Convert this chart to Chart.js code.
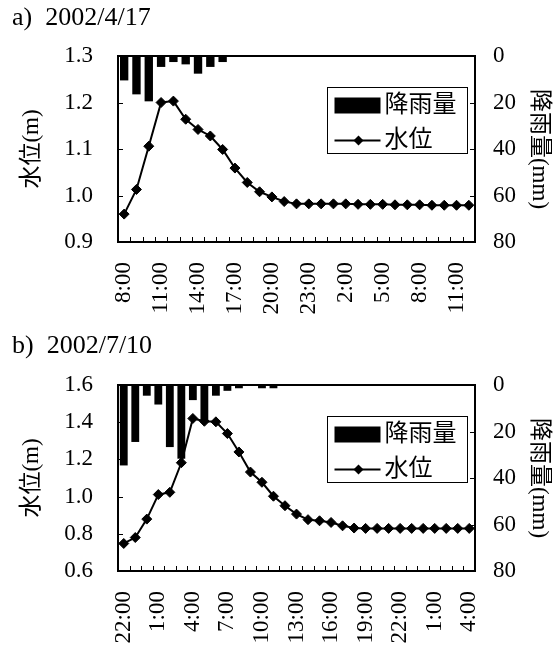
<!DOCTYPE html>
<html>
<head>
<meta charset="utf-8">
<script src="https://cdn.jsdelivr.net/npm/chart.js@4"></script>
<style>
body { margin: 0; background: #fff; }
#wrap { position: relative; width: 558px; height: 648px; }
canvas { position: absolute; left: 0; }
.cap { position: absolute; left: 12px; font: 26px 'Liberation Serif', 'Noto Sans CJK JP', serif; line-height: 26px; white-space: pre; color: #000; }
</style>
</head>
<body>
<div id="wrap">
  <canvas id="chartA" width="558" height="330" style="top:0"></canvas>
  <canvas id="chartB" width="558" height="318" style="top:330px"></canvas>
  <div class="cap" style="top:4px">a)  2002/4/17</div>
  <div class="cap" style="top:332px">b)  2002/7/10</div>
</div>
<script>
// a) 2002/4/17, hourly from 8:00
var hoursA = ['8:00','9:00','10:00','11:00','12:00','13:00','14:00','15:00','16:00','17:00',
  '18:00','19:00','20:00','21:00','22:00','23:00','0:00','1:00','2:00','3:00','4:00','5:00',
  '6:00','7:00','8:00','9:00','10:00','11:00','12:00'];
var rainA = [10.5, 16.5, 19.5, 4.7, 2.6, 3.6, 7.6, 4.7, 2.6, 0, 0, 0, 0, 0, 0,
  0, 0, 0, 0, 0, 0, 0, 0, 0, 0, 0, 0, 0, 0];
var levelA = [0.960, 1.013, 1.106, 1.200, 1.203, 1.164, 1.142, 1.128, 1.099, 1.059,
  1.028, 1.008, 0.997, 0.987, 0.982, 0.982, 0.982, 0.982, 0.982, 0.981, 0.981, 0.981,
  0.980, 0.980, 0.980, 0.979, 0.979, 0.979, 0.979];

// b) 2002/7/10, hourly from 22:00
var hoursB = ['22:00','23:00','0:00','1:00','2:00','3:00','4:00','5:00','6:00','7:00',
  '8:00','9:00','10:00','11:00','12:00','13:00','14:00','15:00','16:00','17:00','18:00',
  '19:00','20:00','21:00','22:00','23:00','0:00','1:00','2:00','3:00','4:00'];
var rainB = [34.6, 24.5, 4.6, 8.4, 26.7, 31.7, 6.5, 15.1, 4.6, 2.5, 1.4, 0, 1.4, 1.4, 0,
  0, 0, 0, 0, 0, 0, 0, 0, 0, 0, 0, 0, 0, 0, 0, 0];
var levelB = [0.748, 0.780, 0.879, 1.011, 1.023, 1.182, 1.420, 1.405, 1.402, 1.339,
  1.240, 1.132, 1.077, 1.002, 0.951, 0.906, 0.876, 0.870, 0.861, 0.843, 0.831, 0.829,
  0.829, 0.829, 0.829, 0.829, 0.829, 0.829, 0.829, 0.829, 0.829];

var FAMILY = "'Liberation Serif', 'Noto Sans CJK JP', serif";
Chart.defaults.font.family = FAMILY;
Chart.defaults.color = '#000';

// frame, inward tick marks and the boxed legend inside the plot
var framePlugin = {
  id: 'framePlugin',
  afterDatasetsDraw: function (chart) {
    var ctx = chart.ctx, a = chart.chartArea;
    var x = chart.scales.x, y = chart.scales.y, r = chart.scales.rain;
    ctx.save();
    ctx.strokeStyle = '#000';
    ctx.lineWidth = 1;
    ctx.beginPath();
    for (var i = 1; i < x.ticks.length; i++) {
      var px = Math.round(x.getPixelForValue(i - 0.5)) + 0.5;
      ctx.moveTo(px, a.bottom);
      ctx.lineTo(px, a.bottom - 5);
    }
    y.ticks.forEach(function (t, i) {
      if (i === 0 || i === y.ticks.length - 1) return;
      var py = Math.round(y.getPixelForValue(t.value)) + 0.5;
      ctx.moveTo(a.left, py);
      ctx.lineTo(a.left + 5, py);
    });
    r.ticks.forEach(function (t, i) {
      if (i === 0 || i === r.ticks.length - 1) return;
      var py = Math.round(r.getPixelForValue(t.value)) + 0.5;
      ctx.moveTo(a.right, py);
      ctx.lineTo(a.right - 5, py);
    });
    ctx.stroke();
    ctx.lineWidth = 2;
    ctx.strokeRect(a.left, a.top, a.right - a.left, a.bottom - a.top);

    // legend
    var bx = Math.round(a.right - 148.5) + 0.5, by = Math.round(a.top + 31) + 0.5;
    ctx.fillStyle = '#fff';
    ctx.fillRect(bx, by, 140, 66);
    ctx.lineWidth = 1;
    ctx.strokeRect(bx, by, 140, 66);
    var ds = chart.data.datasets;
    ctx.fillStyle = '#000';
    ctx.fillRect(bx + 7, by + 10, 46, 16);
    ctx.font = '24px ' + FAMILY;
    ctx.textBaseline = 'middle';
    ctx.textAlign = 'left';
    ctx.fillText(ds[1].label, bx + 57, by + 18);
    ctx.lineWidth = 2;
    ctx.beginPath();
    ctx.moveTo(bx + 7, by + 53);
    ctx.lineTo(bx + 53, by + 53);
    ctx.stroke();
    var mx = bx + 31, my = by + 53, mr = 5;
    ctx.beginPath();
    ctx.moveTo(mx - mr, my);
    ctx.lineTo(mx, my - mr);
    ctx.lineTo(mx + mr, my);
    ctx.lineTo(mx, my + mr);
    ctx.closePath();
    ctx.fill();
    ctx.fillText(ds[0].label, bx + 57, by + 53);
    ctx.restore();
  }
};

function makeChart(id, hours, rain, level, yMin, yMax, yStep, areaTop, areaBottom, canvasH) {
  return new Chart(document.getElementById(id), {
    type: 'bar',
    data: {
      labels: hours,
      datasets: [{
        type: 'line',
        label: '水位',
        data: level,
        yAxisID: 'y',
        borderColor: '#000',
        backgroundColor: '#000',
        borderWidth: 2,
        pointStyle: 'rectRot',
        pointRadius: 5,
        pointBorderWidth: 1,
        tension: 0,
        order: 0
      }, {
        type: 'bar',
        label: '降雨量',
        data: rain,
        yAxisID: 'rain',
        backgroundColor: '#000',
        borderWidth: 0,
        barPercentage: 0.68,
        categoryPercentage: 1.0,
        order: 1
      }]
    },
    options: {
      responsive: false,
      animation: false,
      devicePixelRatio: 1,
      layout: { padding: { top: areaTop, left: 0, right: 0, bottom: 0 } },
      plugins: { legend: { display: false }, tooltip: { enabled: false } },
      scales: {
        x: {
          offset: true,
          grid: { display: false, drawTicks: false, offset: true },
          border: { display: false },
          ticks: {
            autoSkip: false, maxRotation: 90, minRotation: 90, padding: 20,
            font: { size: 23 },
            callback: function (v, i) { return i % 3 === 0 ? this.getLabelForValue(v) : ''; }
          },
          afterFit: function (s) { s.height = canvasH - areaBottom; }
        },
        y: {
          position: 'left', min: yMin, max: yMax,
          grid: { display: false, drawTicks: false },
          border: { display: false },
          ticks: { stepSize: yStep, padding: 25, font: { size: 23 },
            callback: function (v) { return v.toFixed(1); } },
          title: { display: true, text: '水位(m)', font: { size: 23 }, padding: { top: 18, bottom: 0 } },
          afterFit: function (s) { s.width = 118; }
        },
        rain: {
          position: 'right', reverse: true, min: 0, max: 80,
          grid: { display: false, drawTicks: false },
          border: { display: false },
          ticks: { stepSize: 20, padding: 18, font: { size: 23 } },
          title: { display: true, text: '降雨量(mm)', font: { size: 23 }, padding: { top: 5, bottom: 0 } },
          afterFit: function (s) { s.width = 83; }
        }
      }
    },
    plugins: [framePlugin]
  });
}

makeChart('chartA', hoursA, rainA, levelA, 0.9, 1.3, 0.1, 56, 242, 330);
makeChart('chartB', hoursB, rainB, levelB, 0.6, 1.6, 0.2, 55, 241, 318);
</script>
</body>
</html>
